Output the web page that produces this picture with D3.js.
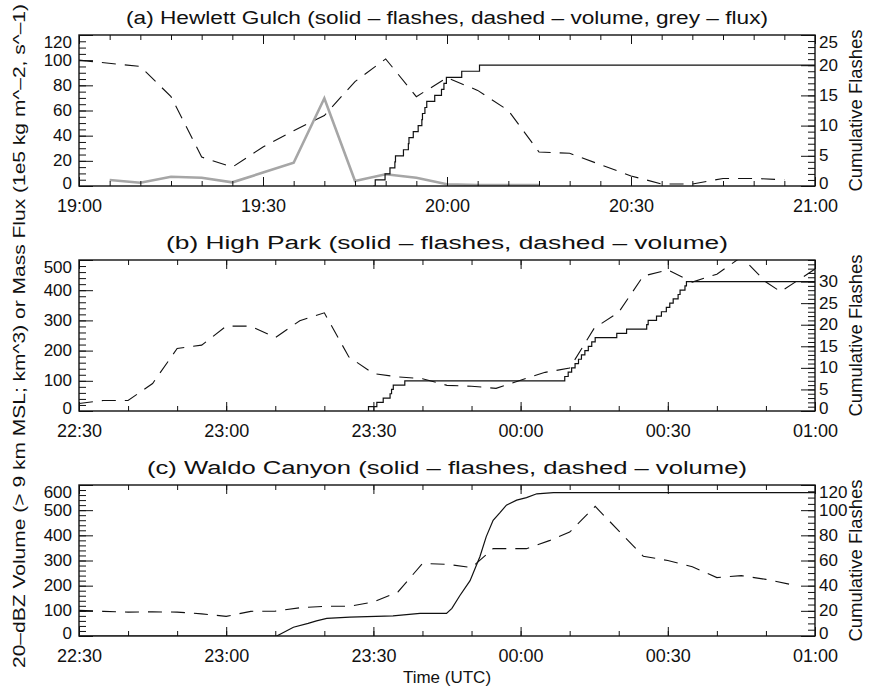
<!DOCTYPE html>
<html>
<head>
<meta charset="utf-8">
<script src="https://cdn.jsdelivr.net/npm/d3@7"></script>
<style>
  body { margin: 0; background: #fff; }
  text { font-family: "Liberation Sans", Arial, sans-serif; fill: #111; }
</style>
</head>
<body>
<svg id="chart" width="872" height="687"></svg>
<script>
// ---- data (times are minutes after the first x tick) ----
const aXLabels = ['19:00', '19:30', '20:00', '20:30', '21:00'];
const bcXLabels = ['22:30', '23:00', '23:30', '00:00', '00:30', '01:00'];

// (a) Hewlett Gulch
const aVolT = [0, 10, 15, 20, 25, 30, 35, 40, 45, 50, 55, 60, 65, 70, 75, 80, 85, 90, 95, 100, 105, 110, 115];
const aVolV = [100, 95, 71, 23, 15, 31, 44, 56, 83, 101, 71, 86, 76, 60, 27, 26, 17, 8, 1.6, 1.6, 6, 6, 5];
const aFluxT = [5, 10, 15, 20, 25, 30, 35, 40, 45, 50, 55, 60, 65, 70, 75];
const aFluxV = [4.8, 2.6, 7.4, 6.6, 2.9, 10.7, 18.5, 69.7, 4, 9.3, 6.6, 1.4, 0.8, 0.8, 0.8];
const aFlashT = [48.0, 48.3, 49.9, 50.7, 51.5, 51.6, 52.9, 53.7, 53.8, 54.5, 55.3, 55.9, 56.0, 56.4, 56.7, 58.0, 59.1, 59.5, 59.9, 62.4, 65.3, 120];
const aFlashN = [0, 1, 2, 3, 4, 5, 6, 7, 8, 9, 10, 11, 12, 13, 14, 15, 16, 17, 18, 19, 20, 20];

// (b) High Park
const bVolT = [0, 5, 10, 15, 20, 25, 30, 35, 40, 45, 50, 55, 60, 65, 70, 75, 80, 85, 90, 95, 100, 105, 110, 115, 120, 125, 130, 135, 140, 143, 150];
const bVolV = [25, 35, 35, 91, 207, 218, 281, 281, 243, 299, 325, 179, 124, 113, 107, 85, 82, 75, 102, 128, 142, 274, 327, 447, 467, 427, 453, 510, 427, 395, 470];
const bFlashT = [58.9, 59.0, 60.7, 62.0, 63.4, 63.7, 64.05, 66.4, 99.0, 99.7, 100.4, 101.1, 101.8, 102.4, 103.1, 103.8, 104.5, 105.2, 109.6, 111.6, 115.7, 116.0, 117.7, 118.7, 119.7, 120.4, 121.1, 122.1, 122.5, 123.5, 123.8, 150];
const bFlashN = [0, 1, 2, 3, 4, 5, 6, 7, 8, 9, 10, 11, 12, 13, 14, 15, 16, 17, 18, 19, 20, 21, 22, 23, 24, 25, 26, 27, 28, 29, 30, 30];

// (c) Waldo Canyon
const cVolT = [0, 5, 10, 15, 20, 25, 30, 35, 40, 45, 50, 55, 60, 65, 70, 75, 80, 84.4, 91.2, 96, 100, 105.2, 115, 120, 125, 130, 135, 140, 145];
const cVolV = [102, 98, 95, 96, 95, 88, 78, 98, 99, 112, 118, 118, 135, 175, 288, 285, 272, 347, 347, 380, 413, 515, 317, 300, 275, 232, 240, 225, 205];
const cFlashT = [0, 40.3, 43.7, 46.7, 48.4, 50.5, 55.2, 64, 69.5, 74.9, 76, 77.6, 79.7, 81.7, 83, 84.4, 85.8, 87.1, 89.2, 91.2, 93.3, 96.7, 150];
const cFlashN = [0, 0, 7, 10, 12, 14, 15, 16, 18, 18, 22, 32, 44, 63, 79, 92, 98, 104, 108, 110, 113, 114, 114];

// ---- layout ----
const plotL = 79, plotR = 815, plotH = 151;
const svg = d3.select('#chart');

const zip = (t, v) => t.map((d, i) => [d, v[i]]);

function drawPanel(p) {
  const top = p.top, bot = p.top + plotH;
  const x = d3.scaleLinear().domain(p.xDom).range([plotL, plotR]);
  const y = d3.scaleLinear().domain(p.yDom).range([bot, top]);
  const y2 = d3.scaleLinear().domain(p.y2Dom).range([bot, top]);
  const g = svg.append('g');

  g.append('clipPath').attr('id', 'clip' + p.id)
    .append('rect').attr('x', plotL).attr('y', top).attr('width', plotR - plotL).attr('height', plotH);
  const lines = g.append('g').attr('clip-path', `url(#clip${p.id})`);

  // volume (dashed)
  lines.append('path')
    .attr('d', d3.line().x(d => x(d[0])).y(d => y(d[1]))(zip(p.volT, p.volV)))
    .attr('fill', 'none').attr('stroke', '#111').attr('stroke-width', 1.1)
    .attr('stroke-dasharray', '14,9');

  // flux (grey)
  if (p.fluxT) {
    lines.append('path')
      .attr('d', d3.line().x(d => x(d[0])).y(d => y(d[1]))(zip(p.fluxT, p.fluxV)))
      .attr('fill', 'none').attr('stroke', '#a6a6a6').attr('stroke-width', 2.6);
  }

  // cumulative flashes (solid)
  lines.append('path')
    .attr('d', d3.line().curve(p.step ? d3.curveStepAfter : d3.curveLinear)
      .x(d => x(d[0])).y(d => y2(d[1]))(zip(p.flashT, p.flashN)))
    .attr('fill', 'none').attr('stroke', '#111').attr('stroke-width', 1.2);

  // axes
  const ax = (gen, tx, ty) => g.append('g').attr('transform', `translate(${tx},${ty})`).call(gen);
  const xMajor = d3.range(p.xDom[0], p.xDom[1] + 0.1, 30);
  const xMinor = d3.range(p.xDom[0], p.xDom[1] + 0.1, p.xMinor);

  const xb = ax(d3.axisBottom(x).tickValues(xMajor).tickSizeInner(-9).tickSizeOuter(0)
    .tickPadding(0).tickFormat((d, i) => p.xLabels[i]), 0, bot);
  ax(d3.axisBottom(x).tickValues(xMinor).tickSizeInner(-5).tickSizeOuter(0).tickFormat(''), 0, bot);
  ax(d3.axisTop(x).tickValues(xMajor).tickSizeInner(-9).tickSizeOuter(0).tickFormat(''), 0, top);
  ax(d3.axisTop(x).tickValues(xMinor).tickSizeInner(-5).tickSizeOuter(0).tickFormat(''), 0, top);

  const yl = ax(d3.axisLeft(y).tickValues(p.yTicks).tickSizeInner(-14).tickSizeOuter(0).tickPadding(7), plotL, 0);
  ax(d3.axisLeft(y).tickValues(p.yMinor).tickSizeInner(-7).tickSizeOuter(0).tickFormat(''), plotL, 0);
  const yr = ax(d3.axisRight(y2).tickValues(p.y2Ticks).tickSizeInner(-14).tickSizeOuter(0).tickPadding(4), plotR, 0);
  ax(d3.axisRight(y2).tickValues(p.y2Minor).tickSizeInner(-7).tickSizeOuter(0).tickFormat(''), plotR, 0);

  g.selectAll('.domain').remove();
  g.selectAll('.tick line').attr('stroke', '#111').attr('stroke-width', 1);
  g.selectAll('.tick text').attr('font-family', '"Liberation Sans", Arial, sans-serif').attr('fill', '#111');
  xb.selectAll('text').attr('font-size', 18).attr('y', 26).attr('dy', null);
  // end labels sit just inside the frame
  [yl, yr].forEach(a => a.selectAll('.tick text').attr('font-size', 17).attr('dy', '0.35em')
    .attr('y', function () {
      const t = d3.select(this.parentNode).attr('transform');
      const ty = +t.match(/,([^)]+)\)/)[1];
      return Math.min(Math.max(ty - 1, top + 7), bot - 3) - ty;
    }));

  g.append('rect').attr('x', plotL).attr('y', top).attr('width', plotR - plotL).attr('height', plotH)
    .attr('fill', 'none').attr('stroke', '#111').attr('stroke-width', 1.4);

  g.append('text').attr('x', (plotL + plotR) / 2).attr('y', top - 11)
    .attr('text-anchor', 'middle').attr('font-size', 18)
    .attr('textLength', p.titleLen).attr('lengthAdjust', 'spacingAndGlyphs')
    .text(p.title);

  g.append('text').attr('transform', `translate(862,${top + plotH / 2}) rotate(-90)`)
    .attr('text-anchor', 'middle').attr('font-size', 18)
    .attr('textLength', 162).attr('lengthAdjust', 'spacingAndGlyphs')
    .text('Cumulative Flashes');
}

drawPanel({
  id: 'a', top: 35, xDom: [0, 120], xMinor: 5, xLabels: aXLabels,
  yDom: [0, 120], yTicks: d3.range(0, 121, 20), yMinor: d3.range(0, 121, 5),
  y2Dom: [0, 25], y2Ticks: d3.range(0, 26, 5), y2Minor: d3.range(0, 26, 1),
  volT: aVolT, volV: aVolV, fluxT: aFluxT, fluxV: aFluxV,
  flashT: aFlashT, flashN: aFlashN, step: true,
  title: '(a) Hewlett Gulch (solid \u2013 flashes, dashed \u2013 volume, grey \u2013 flux)', titleLen: 642
});
drawPanel({
  id: 'b', top: 260, xDom: [0, 150], xMinor: 10, xLabels: bcXLabels,
  yDom: [0, 500], yTicks: d3.range(0, 501, 100), yMinor: d3.range(0, 501, 20),
  y2Dom: [0, 35], y2Ticks: d3.range(0, 31, 5), y2Minor: d3.range(0, 36, 1),
  volT: bVolT, volV: bVolV, flashT: bFlashT, flashN: bFlashN, step: true,
  title: '(b) High Park (solid \u2013 flashes, dashed \u2013 volume)', titleLen: 562
});
drawPanel({
  id: 'c', top: 485, xDom: [0, 150], xMinor: 10, xLabels: bcXLabels,
  yDom: [0, 600], yTicks: d3.range(0, 601, 100), yMinor: d3.range(0, 601, 20),
  y2Dom: [0, 120], y2Ticks: d3.range(0, 121, 20), y2Minor: d3.range(0, 121, 5),
  volT: cVolT, volV: cVolV, flashT: cFlashT, flashN: cFlashN, step: false,
  title: '(c) Waldo Canyon (solid \u2013 flashes, dashed \u2013 volume)', titleLen: 600
});

// shared labels
svg.append('text').attr('transform', 'translate(25,336) rotate(-90)')
  .attr('text-anchor', 'middle').attr('font-size', 17)
  .attr('textLength', 664).attr('lengthAdjust', 'spacingAndGlyphs')
  .text('20\u2013dBZ Volume (> 9 km MSL; km^3) or Mass Flux (1e5 kg m^\u20132, s^\u20131)');

svg.append('text').attr('x', 447).attr('y', 683)
  .attr('text-anchor', 'middle').attr('font-size', 17)
  .text('Time (UTC)');
</script>
</body>
</html>
